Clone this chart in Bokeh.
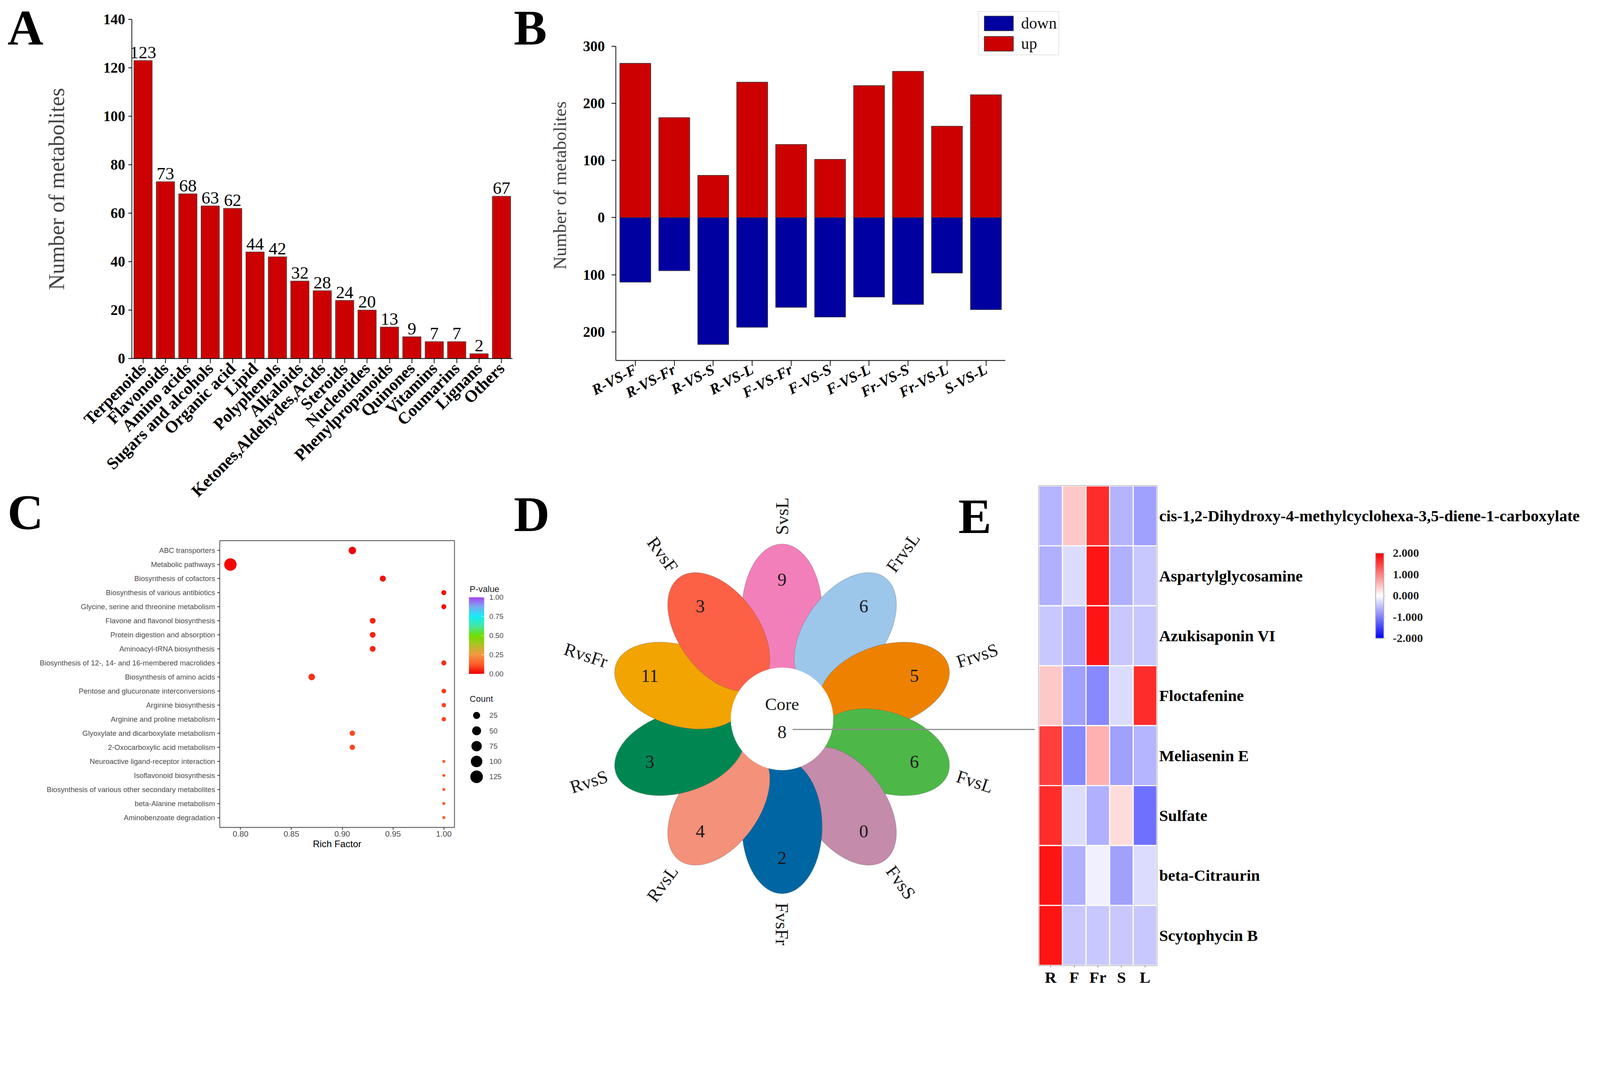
import math
from bokeh.plotting import figure
from bokeh.models import (FactorRange, Range1d, FixedTicker, Legend, LegendItem,
                          ColorBar, LinearColorMapper, ColumnDataSource, NumeralTickFormatter)
from bokeh.layouts import row, column
from bokeh.core.properties import value
from bokeh.embed import file_html
from bokeh.resources import INLINE

SERIF = "Liberation Serif"
SANS = "Liberation Sans"

# ---------------- Panel A data ----------------
a_classes = ["Terpenoids", "Flavonoids", "Amino acids", "Sugars and alcohols", "Organic acid",
             "Lipid", "Polyphenols", "Alkaloids", "Ketones,Aldehydes,Acids", "Steroids",
             "Nucleotides", "Phenylpropanoids", "Quinones", "Vitamins", "Coumarins",
             "Lignans", "Others"]
a_counts = [123, 73, 68, 63, 62, 44, 42, 32, 28, 24, 20, 13, 9, 7, 7, 2, 67]
a_ticks = [0, 20, 40, 60, 80, 100, 120, 140]

# ---------------- Panel B data ----------------
b_groups = ["R-VS-F", "R-VS-Fr", "R-VS-S", "R-VS-L", "F-VS-Fr", "F-VS-S", "F-VS-L",
            "Fr-VS-S", "Fr-VS-L", "S-VS-L"]
b_up = [270, 175, 74, 237, 128, 102, 231, 256, 160, 215]
b_down = [113, 93, 222, 192, 157, 174, 139, 152, 97, 161]
b_ticks = [-200, -100, 0, 100, 200, 300]
b_tick_text = {-200: "200", -100: "100"}

# ---------------- Panel C data ----------------
c_pathways = ["ABC transporters", "Metabolic pathways", "Biosynthesis of cofactors",
              "Biosynthesis of various antibiotics", "Glycine, serine and threonine metabolism",
              "Flavone and flavonol biosynthesis", "Protein digestion and absorption",
              "Aminoacyl-tRNA biosynthesis", "Biosynthesis of 12-, 14- and 16-membered macrolides",
              "Biosynthesis of amino acids", "Pentose and glucuronate interconversions",
              "Arginine biosynthesis", "Arginine and proline metabolism",
              "Glyoxylate and dicarboxylate metabolism", "2-Oxocarboxylic acid metabolism",
              "Neuroactive ligand-receptor interaction", "Isoflavonoid biosynthesis",
              "Biosynthesis of various other secondary metabolites", "beta-Alanine metabolism",
              "Aminobenzoate degradation"]
c_rich = [0.91, 0.79, 0.94, 1.00, 1.00, 0.93, 0.93, 0.93, 1.00, 0.87,
          1.00, 1.00, 1.00, 0.91, 0.91, 1.00, 1.00, 1.00, 1.00, 1.00]
c_count = [30, 122, 15, 8, 8, 13, 13, 13, 8, 20, 6, 5, 5, 10, 10, 2, 2, 2, 2, 2]
c_pvalue = [0.005, 0.01, 0.02, 0.03, 0.03, 0.05, 0.05, 0.05, 0.06, 0.07,
            0.08, 0.09, 0.09, 0.10, 0.10, 0.12, 0.12, 0.12, 0.12, 0.12]
c_x_ticks = [0.80, 0.85, 0.90, 0.95, 1.00]
c_count_breaks = [25, 50, 75, 100, 125]
c_p_breaks = [0.0, 0.25, 0.5, 0.75, 1.0]

# ---------------- Panel D data ----------------
d_names = ["SvsL", "FrvsL", "FrvsS", "FvsL", "FvsS", "FvsFr", "RvsL", "RvsS", "RvsFr", "RvsF"]
d_counts = [9, 6, 5, 6, 0, 2, 4, 3, 11, 3]
d_core = 8

# ---------------- Panel E data ----------------
e_metabolites = ["cis-1,2-Dihydroxy-4-methylcyclohexa-3,5-diene-1-carboxylate",
                 "Aspartylglycosamine", "Azukisaponin VI", "Floctafenine", "Meliasenin E",
                 "Sulfate", "beta-Citraurin", "Scytophycin B"]
e_tissues = ["R", "F", "Fr", "S", "L"]
e_R = [-0.59, -0.62, -0.43, 0.43, 1.50, 1.65, 1.84, 1.84]
e_F = [0.43, -0.27, -0.62, -0.75, -0.93, -0.27, -0.62, -0.43]
e_Fr = [1.65, 1.84, 1.84, -0.93, 0.62, -0.62, -0.12, -0.43]
e_S = [-0.59, -0.62, -0.43, -0.27, -0.75, 0.27, -0.75, -0.43]
e_L = [-0.75, -0.43, -0.43, 1.65, -0.59, -1.12, -0.27, -0.43]
e_ticks = [-2, -1, 0, 1, 2]

# ---------------- styles & page geometry ----------------
# The page is laid out in CSS pixels; the screenshot is taken at ~1.07 device px per CSS px,
# so every pixel quantity below is designed in screenshot pixels and scaled by K.
K = 0.9345


def c(b):
    """screenshot coordinate -> layout CSS pixel"""
    return int(round((b - 8) * K))


def P(v):
    return max(int(round(v * K)), 0)


def F(v):
    return "%.1fpx" % (v * K)


RED = "#CC0000"
BLUE = "#0000A0"
EDGE = "#4A4A4A"
PETAL_COLORS = ["#F37FBA", "#9DC6EB", "#EE8200", "#4DB848", "#C48BAA",
                "#0066A3", "#F4917A", "#008751", "#F2A400", "#FC6146"]
LETTER_SIZE = F(136)


def hex_rgb(h):
    h = h.lstrip("#")
    return tuple(int(h[i:i + 2], 16) for i in (0, 2, 4))


def make_palette(stops, n=256):
    pal = []
    for i in range(n):
        t = i / (n - 1)
        for (p0, c0), (p1, c1) in zip(stops[:-1], stops[1:]):
            if t <= p1 + 1e-9:
                f = 0.0 if p1 == p0 else (t - p0) / (p1 - p0)
                a, b = hex_rgb(c0), hex_rgb(c1)
                pal.append("#%02x%02x%02x" % tuple(int(round(a[k] + (b[k] - a[k]) * f)) for k in range(3)))
                break
    return pal


P_PALETTE = make_palette([(0.0, "#F00000"), (0.12, "#FF5A28"), (0.25, "#F59640"),
                          (0.37, "#B4BE28"), (0.5, "#6EE000"), (0.62, "#46E6A0"),
                          (0.75, "#14EEF5"), (0.88, "#78AAF0"), (1.0, "#AA46F0")])
Z_PALETTE = make_palette([(0.0, "#0000FF"), (0.5, "#FFFFFF"), (1.0, "#FF0000")])


def base_fig(**kw):
    p = figure(output_backend="svg", toolbar_location=None, **kw)
    p.background_fill_color = "white"
    p.border_fill_color = "white"
    p.outline_line_color = None
    p.xgrid.visible = False
    p.ygrid.visible = False
    return p


def plain_fig(w, h, uw, uh, flip=True):
    """A figure whose frame is the whole canvas; data units are screenshot pixels."""
    yr = Range1d(uh, 0) if flip else Range1d(0, uh)
    return base_fig(width=w, height=h, x_range=Range1d(0, uw), y_range=yr,
                    x_axis_location=None, y_axis_location=None,
                    min_border_left=0, min_border_right=0, min_border_top=0, min_border_bottom=0)


def letters(p, xs, ys, txt):
    # ys are the centres of the em box
    p.text(x=xs, y=ys, text=txt, text_font=value(SERIF), text_font_size=LETTER_SIZE,
           text_font_style="bold", text_color="black", text_align="left",
           text_baseline="middle")


def serif_axis(ax, size):
    ax.major_label_text_font = SERIF
    ax.major_label_text_font_style = "bold"
    ax.major_label_text_font_size = size
    ax.major_label_text_color = "black"
    ax.axis_line_width = 2 * K
    ax.axis_line_color = "black"
    ax.major_tick_line_width = 2 * K
    ax.major_tick_in = 0
    ax.minor_tick_line_color = None


def W(p):
    # wrap each plot on its own so that sibling plot frames are not aligned
    return column(p)


# ================= Panel A (x 8..1412, y 8..1486) =================
stripA = plain_fig(c(127) - c(8), c(1486) - c(8), 119, 1478)
letters(stripA, [20, 20], [75, 1403], ["A", "C"])

pA = base_fig(width=c(1412) - c(127), height=c(1486) - c(8),
              x_range=FactorRange(factors=a_classes), y_range=Range1d(0, 140),
              min_border_left=c(361) - c(127), min_border_right=0,
              min_border_top=c(60) - c(8), min_border_bottom=c(1486) - c(989))
srcA = ColumnDataSource(dict(cls=a_classes, n=a_counts, ly=[v + 1.0 for v in a_counts],
                             lab=[str(v) for v in a_counts]))
pA.vbar(x="cls", top="n", width=0.82, source=srcA, fill_color=RED,
        line_color=EDGE, line_width=1.5 * K)
pA.text(x="cls", y="ly", text="lab", source=srcA, text_align="center", text_baseline="bottom",
        text_font=value(SERIF), text_font_size=F(48), text_color="black")
ya, xa = pA.yaxis[0], pA.xaxis[0]
serif_axis(ya, F(40))
serif_axis(xa, F(46))
ya.ticker = FixedTicker(ticks=a_ticks)
ya.axis_label = "Number of metabolites"
ya.axis_label_text_font = SERIF
ya.axis_label_text_font_size = F(60)
ya.axis_label_text_font_style = "normal"
ya.axis_label_standoff = P(91)
ya.major_tick_out = P(10)
ya.major_label_standoff = P(9)
xa.major_label_orientation = math.pi / 4
xa.major_tick_out = P(13)
xa.major_label_standoff = P(6)

# ================= Panel B (x 1412..2920, y 8..1328) =================
stripB = plain_fig(c(1510) - c(1412), c(1328) - c(8), 98, 1320)
letters(stripB, [3], [75], ["B"])

b_x = [i + 0.5 for i in range(len(b_groups))]
pB = base_fig(width=c(2920) - c(1510), height=c(1328) - c(8),
              x_range=Range1d(0, 11.48), y_range=Range1d(-250, 362.6),
              min_border_left=c(1693) - c(1510), min_border_right=0,
              min_border_top=c(36) - c(8), min_border_bottom=c(1328) - c(995))
srcB = ColumnDataSource(dict(x=b_x, up=b_up, down=[-v for v in b_down]))
r_up = pB.vbar(x="x", top="up", bottom=0, width=0.795, source=srcB, fill_color=RED,
               line_color="#333333", line_width=1.5 * K)
r_down = pB.vbar(x="x", top=0, bottom="down", width=0.795, source=srcB, fill_color=BLUE,
                 line_color="#333333", line_width=1.5 * K)
yb, xb = pB.yaxis[0], pB.xaxis[0]
serif_axis(yb, F(40))
serif_axis(xb, F(41))
xb.major_label_text_font_style = "bold italic"
yb.ticker = FixedTicker(ticks=b_ticks)
yb.major_label_overrides = b_tick_text
yb.bounds = (-250, 300)
yb.axis_label = "Number of metabolites"
yb.axis_label_text_font = SERIF
yb.axis_label_text_font_size = F(50)
yb.axis_label_text_font_style = "normal"
yb.axis_label_standoff = P(32)
yb.major_tick_out = P(12)
yb.major_label_standoff = P(18)
xb.ticker = FixedTicker(ticks=b_x)
xb.major_label_overrides = {x: g for x, g in zip(b_x, b_groups)}
xb.bounds = (0, len(b_groups))
xb.major_label_orientation = 0.49
xb.major_tick_out = P(15)
xb.major_label_standoff = P(6)
legB = Legend(items=[LegendItem(label="down", renderers=[r_down]),
                     LegendItem(label="up", renderers=[r_up])],
              location=(P(993), P(836)), glyph_width=P(100), glyph_height=P(50),
              label_text_font=SERIF, label_text_font_size=F(44), label_text_color="#111111",
              label_standoff=P(12), spacing=P(4), padding=P(5), margin=0,
              border_line_color="#A0A0A0", border_line_width=2 * K,
              background_fill_color="white", background_fill_alpha=1.0)
pB.add_layout(legB, "center")

# ================= Panel C (x 8..1412, y 1486..2720) =================
cmin, cmax = min(c_count), max(c_count)


def dot_size(cnt):
    return (8 + 26 * math.sqrt(max(cnt - cmin, 0) / (cmax - cmin))) * K


mapperC = LinearColorMapper(palette=P_PALETTE, low=0, high=1)
pC = base_fig(width=c(1262) - c(8), height=c(2720) - c(1486),
              x_range=Range1d(0.7795, 1.0105),
              y_range=FactorRange(factors=list(reversed(c_pathways)), range_padding=0.2,
                                  range_padding_units="absolute"),
              min_border_left=c(609) - c(8), min_border_right=c(1262) - c(1252),
              min_border_top=c(1488) - c(1486), min_border_bottom=c(2720) - c(2273))
pC.outline_line_color = "#7F7F7F"
pC.outline_line_width = 3 * K
srcC = ColumnDataSource(dict(path=c_pathways, rf=c_rich, p=c_pvalue,
                             sz=[dot_size(v) for v in c_count]))
pC.scatter(x="rf", y="path", size="sz", source=srcC, marker="circle",
           fill_color={"field": "p", "transform": mapperC}, line_color=None)
xc, yc = pC.xaxis[0], pC.yaxis[0]
xc.ticker = FixedTicker(ticks=c_x_ticks)
xc.formatter = NumeralTickFormatter(format="0.00")
xc.axis_label = "Rich Factor"
xc.axis_label_text_font = SANS
xc.axis_label_text_font_size = F(26)
xc.axis_label_text_font_style = "normal"
xc.axis_label_text_color = "black"
xc.axis_label_standoff = P(2)
for ax in (xc, yc):
    ax.axis_line_color = None
    ax.major_label_text_font = SANS
    ax.major_label_text_color = "#4D4D4D"
    ax.major_tick_line_color = "#333333"
    ax.major_tick_line_width = 2 * K
    ax.major_tick_in = 0
    ax.major_tick_out = P(6)
    ax.minor_tick_line_color = None
xc.major_label_text_font_size = F(22)
xc.major_label_standoff = P(3)
yc.major_label_text_font_size = F(20)
yc.major_label_standoff = P(6)

# legends of panel C (x 1262..1412, y 1486..2720), y measured upward from the bottom
pCl = plain_fig(c(1412) - c(1262), c(2720) - c(1486), 150, 1234, flip=False)
cbC = ColorBar(color_mapper=mapperC, orientation="vertical", location=(P(30), P(867)),
               width=P(42), height=P(210), padding=0, ticker=FixedTicker(ticks=c_p_breaks),
               formatter=NumeralTickFormatter(format="0.00"),
               major_label_text_font=SANS, major_label_text_font_size=F(20),
               major_label_text_color="#4D4D4D", label_standoff=P(14),
               major_tick_in=P(8), major_tick_out=0, major_tick_line_color="white",
               minor_tick_line_color=None, bar_line_color=None, background_fill_alpha=0)
pCl.add_layout(cbC, "center")
pCl.text(x=[32, 32], y=[1099, 798], text=["P-value", "Count"], text_font=value(SANS),
         text_font_size=F(24), text_color="#1A1A1A", text_baseline="middle", text_align="left")
leg_y = [753 - 42 * i for i in range(len(c_count_breaks))]
pCl.scatter(x=[51] * len(c_count_breaks), y=leg_y, size=[dot_size(b) for b in c_count_breaks],
            marker="circle", fill_color="black", line_color=None)
pCl.text(x=[86] * len(c_count_breaks), y=leg_y, text=[str(b) for b in c_count_breaks],
         text_font=value(SANS), text_font_size=F(20), text_color="#4D4D4D",
         text_baseline="middle", text_align="left")

# ================= Panel D (x 1412..2843, y 1328..2720) =================
pD = base_fig(width=c(2843) - c(1412), height=c(2720) - c(1328),
              x_range=Range1d(-738, 693), y_range=Range1d(-744, 648),
              x_axis_location=None, y_axis_location=None,
              min_border_left=0, min_border_right=0, min_border_top=0, min_border_bottom=0)
n_pet = len(d_names)
thetas = [math.radians(90 - 360.0 / n_pet * i) for i in range(n_pet)]
PET_C, PET_A, PET_B, NUM_R, LAB_R = 295, 184, 110, 381, 504
pD.ellipse(x=[PET_C * math.cos(t) for t in thetas], y=[PET_C * math.sin(t) for t in thetas],
           width=2 * PET_A, height=2 * PET_B, angle=thetas, fill_color=PETAL_COLORS,
           line_color="#555555", line_alpha=0.35, line_width=1.5 * K)
pD.text(x=[NUM_R * math.cos(t) for t in thetas], y=[NUM_R * math.sin(t) for t in thetas],
        text=[str(v) for v in d_counts], text_font=value(SERIF), text_font_size=F(50),
        text_color="#1A1A1A", text_align="center", text_baseline="middle")
left = dict(x=[], y=[], t=[], a=[])
right = dict(x=[], y=[], t=[], a=[])
for name, t in zip(d_names, thetas):
    if math.cos(t) > -1e-9:
        grp, ang = left, t
    else:
        grp, ang = right, (t + math.pi if t < 0 else t - math.pi)
    grp["x"].append(LAB_R * math.cos(t))
    grp["y"].append(LAB_R * math.sin(t))
    grp["t"].append(name)
    grp["a"].append(ang)
for grp, al in ((left, "left"), (right, "right")):
    pD.text(x=grp["x"], y=grp["y"], text=grp["t"], angle=grp["a"], text_font=value(SERIF),
            text_font_size=F(50), text_color="#1A1A1A", text_align=al, text_baseline="middle")
pD.circle(x=[0], y=[0], radius=140, fill_color="white", line_color="white")
pD.text(x=[0], y=[40], text=["Core"], text_font=value(SERIF), text_font_size=F(48),
        text_color="#1A1A1A", text_align="center", text_baseline="middle")
pD.text(x=[0], y=[-36], text=[str(d_core)], text_font=value(SERIF), text_font_size=F(50),
        text_color="#1A1A1A", text_align="center", text_baseline="middle")
pD.segment(x0=[29], y0=[-29], x1=[693], y1=[-29], line_color="#8C8C8C", line_width=3 * K)
letters(pD, [-735, 483], [561, 555], ["D", "E"])

# ================= Panel E (x 2843..4374, y 1328..2720) =================
mapperE = LinearColorMapper(palette=Z_PALETTE, low=-2, high=2)
pE = base_fig(width=c(4374) - c(2843), height=c(2720) - c(1328),
              x_range=FactorRange(factors=e_tissues),
              y_range=FactorRange(factors=list(reversed(e_metabolites))),
              y_axis_location="right",
              min_border_left=c(2853) - c(2843), min_border_right=c(4374) - c(3177),
              min_border_top=c(1338) - c(1328), min_border_bottom=c(2720) - c(2651))
pE.outline_line_color = "#A6A6A6"
pE.outline_line_width = 3 * K
ex, ey, ez = [], [], []
for t, col in zip(e_tissues, [e_R, e_F, e_Fr, e_S, e_L]):
    for m, z in zip(e_metabolites, col):
        ex.append(t)
        ey.append(m)
        ez.append(z)
srcE = ColumnDataSource(dict(x=ex, y=ey, z=ez))
pE.rect(x="x", y="y", width=1, height=1, source=srcE,
        fill_color={"field": "z", "transform": mapperE}, line_color="white", line_width=3 * K)
xe, ye = pE.xaxis[0], pE.yaxis[0]
for ax in (xe, ye):
    ax.axis_line_color = None
    ax.major_label_text_font = SERIF
    ax.major_label_text_font_style = "bold"
    ax.major_label_text_color = "black"
    ax.minor_tick_line_color = None
    ax.major_tick_in = 0
xe.major_label_text_font_size = F(44)
ye.major_label_text_font_size = F(44)
xe.major_tick_out = P(5)
xe.major_tick_line_color = "#888888"
xe.major_tick_line_width = 2 * K
xe.major_label_standoff = P(2)
ye.major_tick_out = 0
ye.major_tick_line_color = None
ye.major_label_standoff = P(6)
cbE = ColorBar(color_mapper=mapperE, orientation="vertical", location=(P(922), P(896)),
               width=P(23), height=P(233), padding=0, ticker=FixedTicker(ticks=e_ticks),
               formatter=NumeralTickFormatter(format="0.000"),
               major_label_text_font=SERIF, major_label_text_font_style="bold",
               major_label_text_font_size=F(32), major_label_text_color="#222222",
               label_standoff=P(19), major_tick_out=P(5), major_tick_in=0,
               major_tick_line_color="#BBBBBB", minor_tick_line_color=None,
               bar_line_color="#AAAAAA", bar_line_width=2 * K, background_fill_alpha=0)
pE.add_layout(cbE, "center")

# ================= Layout =================
left_col = column(row(W(stripA), W(pA)), row(W(pC), W(pCl)))
right_col = column(row(W(stripB), W(pB)), row(W(pD), W(pE)))
layout = row(left_col, right_col)

open("out.html", "w").write(file_html(layout, INLINE, "Metabolite figure"))
